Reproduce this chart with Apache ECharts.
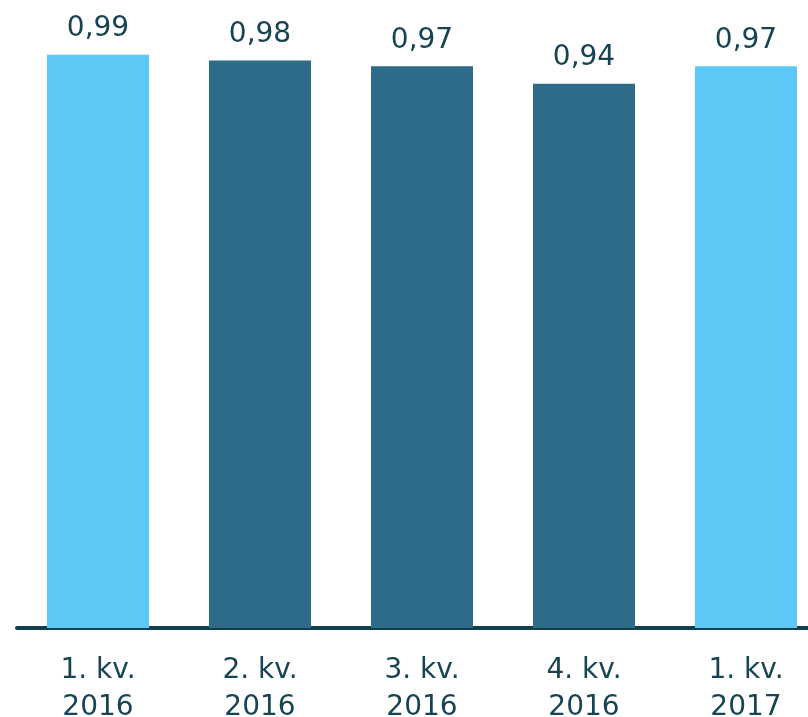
<!DOCTYPE html>
<html>
<head>
<meta charset="utf-8">
<script src="https://cdn.jsdelivr.net/npm/echarts@6/dist/echarts.min.js"></script>
<style>html,body{margin:0;padding:0;background:#fff;}#c{width:808px;height:717px;}</style>
</head>
<body>
<div id="c"></div>
<script>
const categories = ['1. kv.\n2016', '2. kv.\n2016', '3. kv.\n2016', '4. kv.\n2016', '1. kv.\n2017'];
const values = [0.99, 0.98, 0.97, 0.94, 0.97];
const barColors = ['#5BC8F5', '#2D6B88', '#2D6B88', '#2D6B88', '#5BC8F5'];

const chart = echarts.init(document.getElementById('c'), null, {renderer: 'canvas'});
chart.setOption({
  animation: false,
  grid: {left: 17, right: -19, top: 49, bottom: 89, containLabel: false, outerBoundsMode: 'none'},
  xAxis: {
    type: 'category',
    data: categories,
    axisLine: {show: true, lineStyle: {color: '#123F4C', width: 4}},
    axisTick: {show: false},
    axisLabel: {color: '#164452', fontFamily: 'DejaVu Sans', fontSize: 28, lineHeight: 37, margin: 24, interval: 0}
  },
  yAxis: {
    type: 'value', min: 0, max: 1,
    show: false,
    splitLine: {show: false}
  },
  series: [{
    type: 'bar',
    barWidth: 102,
    data: values.map((v, i) => ({value: v, itemStyle: {color: barColors[i]}})),
    label: {
      show: true, position: 'top', distance: 12,
      color: '#164452', fontFamily: 'DejaVu Sans', fontSize: 28,
      formatter: p => p.value.toFixed(2).replace('.', ',')
    }
  }]
});
</script>
</body>
</html>
